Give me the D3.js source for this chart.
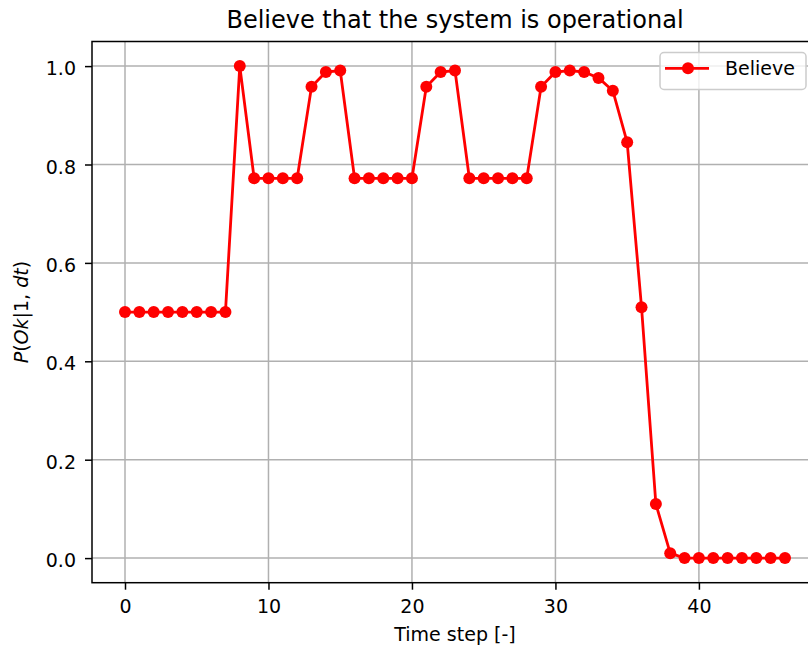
<!DOCTYPE html>
<html>
<head>
<meta charset="utf-8">
<script src="https://cdn.jsdelivr.net/npm/d3@7"></script>
<style>
  html, body { margin: 0; padding: 0; background: #fff; }
  svg { display: block; font-family: "DejaVu Sans", sans-serif; }
</style>
</head>
<body>
<svg id="chart" width="808" height="648"></svg>
<script>
const timeSteps = [0,1,2,3,4,5,6,7,8,9,10,11,12,13,14,15,16,17,18,19,20,21,22,23,24,25,26,27,28,29,30,31,32,33,34,35,36,37,38,39,40,41,42,43,44,45,46];
const believe = [0.5,0.5,0.5,0.5,0.5,0.5,0.5,0.5,1.0,0.772,0.772,0.772,0.772,0.958,0.988,0.991,0.772,0.772,0.772,0.772,0.772,0.958,0.988,0.991,0.772,0.772,0.772,0.772,0.772,0.958,0.988,0.991,0.988,0.976,0.95,0.845,0.51,0.11,0.01,0.0,0.0,0.0,0.0,0.0,0.0,0.0,0.0];
const xTicks = [0,10,20,30,40];
const yTicks = [0.0,0.2,0.4,0.6,0.8,1.0];
const title = "Believe that the system is operational";
const xLabel = "Time step [-]";
const legendLabel = "Believe";

(function () {
const svg = d3.select("#chart");
const pL = 92, pR = 818, pT = 41.5, pB = 582.7;
const fs = "19px";

const x = d3.scaleLinear().domain([-2.3, 48.3]).range([pL, pR]);
const y = d3.scaleLinear().domain([-0.05, 1.05]).range([pB, pT]);

// grid
const grid = svg.append("g");
xTicks.forEach(t => grid.append("line")
  .attr("x1", x(t)).attr("x2", x(t)).attr("y1", pT).attr("y2", pB)
  .attr("stroke", "#b0b0b0").attr("stroke-width", 1.5));
yTicks.forEach(t => grid.append("line")
  .attr("x1", pL).attr("x2", pR).attr("y1", y(t)).attr("y2", y(t))
  .attr("stroke", "#b0b0b0").attr("stroke-width", 1.5));

// axes
const xAxis = d3.axisBottom(x).tickValues(xTicks).tickFormat(d3.format("d")).tickSizeInner(7).tickSizeOuter(0).tickPadding(9.5);
const yAxis = d3.axisLeft(y).tickValues(yTicks).tickFormat(d3.format(".1f")).tickSizeInner(7).tickSizeOuter(0).tickPadding(9);

const gx = svg.append("g").attr("transform", `translate(0,${pB})`).call(xAxis);
const gy = svg.append("g").attr("transform", `translate(${pL},0)`).call(yAxis);
[gx, gy].forEach(g => {
  g.select(".domain").remove();
  g.selectAll(".tick line").attr("stroke", "#000").attr("stroke-width", 1.5);
  g.selectAll(".tick text").attr("fill", "#000").style("font-size", fs).style("font-family", "DejaVu Sans");
});
gy.selectAll(".tick text").attr("dy", "0.45em");

// spines
svg.append("rect").attr("x", pL).attr("y", pT).attr("width", pR - pL).attr("height", pB - pT)
  .attr("fill", "none").attr("stroke", "#000").attr("stroke-width", 1.5);

// data
const pts = timeSteps.map((t, i) => [t, believe[i]]);
const line = d3.line().x(d => x(d[0])).y(d => y(d[1]));
svg.append("path").datum(pts).attr("d", line)
  .attr("fill", "none").attr("stroke", "#ff0000").attr("stroke-width", 2.8).attr("stroke-linejoin", "round");
svg.append("g").selectAll("circle").data(pts).join("circle")
  .attr("cx", d => x(d[0])).attr("cy", d => y(d[1])).attr("r", 6).attr("fill", "#ff0000");

// title and labels
svg.append("text").attr("x", (pL + pR) / 2).attr("y", 28).attr("text-anchor", "middle")
  .style("font-size", "24px").attr("fill", "#000").text(title);
svg.append("text").attr("x", (pL + pR) / 2).attr("y", 640.5).attr("text-anchor", "middle")
  .style("font-size", fs).attr("fill", "#000").text(xLabel);

const yl = svg.append("text").attr("transform", `translate(28,${(pT + pB) / 2}) rotate(-90)`)
  .attr("text-anchor", "middle").style("font-size", fs).attr("fill", "#000");
[["P", true], ["(", false], ["Ok", true], ["|1, ", false], ["dt", true], [")", false]].forEach(([s, it]) =>
  yl.append("tspan").text(s).style("font-style", it ? "italic" : "normal"));

// legend
const lg = svg.append("g").attr("transform", "translate(660,52.5)");
lg.append("rect").attr("width", 146).attr("height", 37).attr("rx", 4)
  .attr("fill", "#fff").attr("fill-opacity", 0.8).attr("stroke", "#cccccc").attr("stroke-width", 1.5);
lg.append("line").attr("x1", 5).attr("x2", 49).attr("y1", 15.8).attr("y2", 15.8)
  .attr("stroke", "#ff0000").attr("stroke-width", 2.8);
lg.append("circle").attr("cx", 28).attr("cy", 15.8).attr("r", 6).attr("fill", "#ff0000");
lg.append("text").attr("x", 65).attr("y", 22.5).style("font-size", fs).attr("fill", "#000").text(legendLabel);
})();
</script>
</body>
</html>
